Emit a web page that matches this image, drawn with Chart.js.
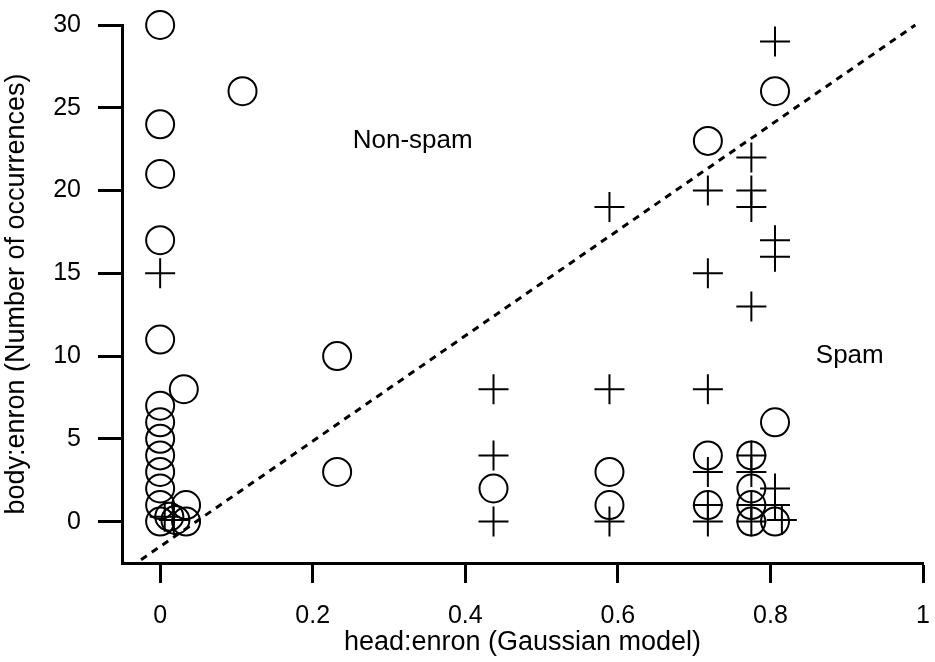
<!DOCTYPE html>
<html>
<head>
<meta charset="utf-8">
<script src="https://cdn.jsdelivr.net/npm/chart.js@4.4.1/dist/chart.umd.min.js"></script>
<style>
  html, body { margin: 0; padding: 0; background: #fff; }
  #wrap { width: 935px; height: 662px; }
</style>
</head>
<body>
<div id="wrap"><canvas id="myChart" width="935" height="662"></canvas></div>
<script>
// circles (one class)
var circleX = [0, 0.108, 0, 0, 0, 0, 0, 0, 0, 0, 0, 0, 0, 0, 0.031, 0.012, 0.02, 0.034, 0.034,
    0.232, 0.232, 0.437, 0.589, 0.589, 0.718, 0.718, 0.718, 0.775, 0.775, 0.775, 0.775, 0.806, 0.806, 0.806];
var circleY = [30, 26, 24, 21, 17, 11, 7, 6, 5, 4, 3, 2, 1, 0, 8, 0.3, 0.1, 1, 0,
    10, 3, 2, 3, 1, 23, 4, 1, 4, 2, 1, 0, 26, 6, 0];

// crosses (other class)
var crossX = [0, 0.006, 0.018, 0.437, 0.437, 0.437, 0.589, 0.589, 0.589,
    0.718, 0.718, 0.718, 0.718, 0.718, 0.718,
    0.775, 0.775, 0.775, 0.775, 0.775, 0.775, 0.775, 0.775,
    0.806, 0.806, 0.806, 0.806, 0.806, 0.815];
var crossY = [15, 0.3, 0.1, 8, 4, 0, 19, 8, 0,
    20, 15, 8, 3, 1, 0,
    22, 20, 19, 13, 4, 3, 1, 0,
    29, 17, 16, 2, 1, 0.1];

// dashed separating line
var lineX = [-0.025, 0.99];
var lineY = [-2.3, 30];

var xTicks = [0, 0.2, 0.4, 0.6, 0.8, 1];
var xTickLabels = ['0', '0.2', '0.4', '0.6', '0.8', '1'];
var yTicks = [0, 5, 10, 15, 20, 25, 30];

var regionNames = ['Non-spam', 'Spam'];
var regionX = [0.331, 0.904];
var regionY = [23, 10];

var fontFamily = '"Liberation Sans", Arial, Helvetica, sans-serif';

function toPoints(xs, ys) {
    return xs.map(function (x, i) {
        return { x: x, y: ys[i] };
    });
}

// let layout.padding alone decide where the plot area sits
function noOverflow(s) {
    s.paddingTop = 0;
    s.paddingBottom = 0;
    s.paddingLeft = 0;
    s.paddingRight = 0;
}

var regionLabels = {
    id: 'regionLabels',
    afterDatasetsDraw: function (chart) {
        var ctx = chart.ctx;
        var xs = chart.scales.x;
        var ys = chart.scales.y;
        ctx.save();
        ctx.font = '26px ' + fontFamily;
        ctx.fillStyle = '#000';
        ctx.textAlign = 'center';
        ctx.textBaseline = 'middle';
        for (var i = 0; i < regionNames.length; i++) {
            ctx.fillText(regionNames[i], xs.getPixelForValue(regionX[i]), ys.getPixelForValue(regionY[i]));
        }
        ctx.restore();
    }
};

const ctx = document.getElementById('myChart');

var chart = new Chart(ctx, {
    type: 'scatter',
    data: {
        datasets: [{
            label: 'boundary',
            data: toPoints(lineX, lineY),
            showLine: true,
            borderColor: '#000',
            borderWidth: 3,
            borderDash: [7, 6],
            pointRadius: 0,
            clip: false
        }, {
            label: 'circles',
            data: toPoints(circleX, circleY),
            pointStyle: 'circle',
            pointRadius: 14,
            borderColor: '#000',
            borderWidth: 2,
            backgroundColor: 'rgba(0,0,0,0)',
            clip: false
        }, {
            label: 'crosses',
            data: toPoints(crossX, crossY),
            pointStyle: 'cross',
            pointRadius: 15,
            borderColor: '#000',
            borderWidth: 2,
            clip: false
        }]
    },
    options: {
        responsive: false,
        animation: false,
        devicePixelRatio: 1,
        events: [],
        layout: { autoPadding: false, padding: { top: 25, right: 12, left: 0, bottom: 0 } },
        plugins: {
            legend: { display: false },
            tooltip: { enabled: false }
        },
        scales: {
            x: {
                type: 'linear',
                min: -0.05,
                max: 1,
                afterBuildTicks: function (s) {
                    s.ticks = xTicks.map(function (v) { return { value: v }; });
                },
                afterFit: function (s) {
                    s.height = 99;
                    noOverflow(s);
                },
                ticks: {
                    autoSkip: false,
                    maxRotation: 0,
                    padding: 18,
                    color: '#000',
                    font: { family: fontFamily, size: 25 },
                    callback: function (v) { return xTickLabels[xTicks.indexOf(v)]; }
                },
                grid: { drawOnChartArea: false, tickLength: 20, tickWidth: 3, tickColor: '#000' },
                border: { color: '#000', width: 3 },
                title: {
                    display: true,
                    text: 'head:enron (Gaussian model)',
                    color: '#000',
                    font: { family: fontFamily, size: 27 },
                    padding: { top: 0, bottom: 3 }
                }
            },
            y: {
                type: 'linear',
                min: -2.5,
                max: 30,
                afterBuildTicks: function (s) {
                    s.ticks = yTicks.map(function (v) { return { value: v }; });
                },
                afterFit: function (s) {
                    s.width = 122;
                    noOverflow(s);
                },
                ticks: {
                    autoSkip: false,
                    padding: 17,
                    color: '#000',
                    font: { family: fontFamily, size: 25 }
                },
                grid: { drawOnChartArea: false, tickLength: 24, tickWidth: 3, tickColor: '#000' },
                border: { color: '#000', width: 3 },
                title: {
                    display: true,
                    text: 'body:enron (Number of occurrences)',
                    color: '#000',
                    font: { family: fontFamily, size: 27 },
                    padding: { top: 0, bottom: 0 }
                }
            }
        }
    },
    plugins: [regionLabels]
});
</script>
</body>
</html>
